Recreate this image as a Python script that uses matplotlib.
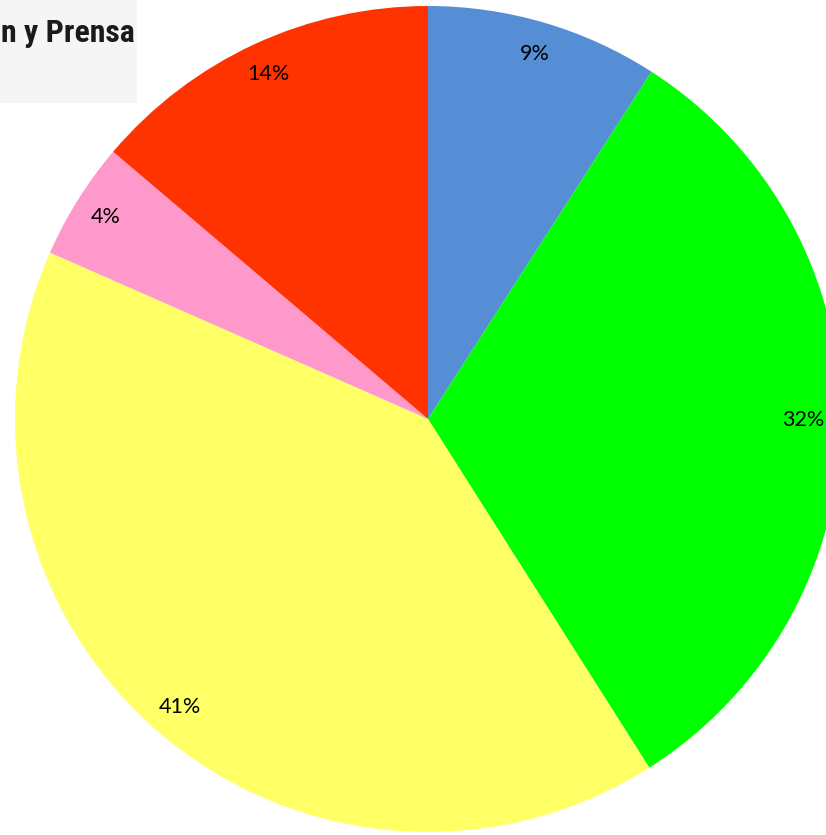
import matplotlib
matplotlib.use("Agg")
import matplotlib.pyplot as plt
from matplotlib.patches import Rectangle
from matplotlib import font_manager

# Data (clockwise from 12 o'clock)
values = [9.1, 31.9, 40.6, 4.6, 13.8]
pct_labels = ["9%", "32%", "41%", "4%", "14%"]
colors = ["#558ED5", "#00FF00", "#FFFF66", "#FF99CC", "#FF3300"]
logo_text = "n y Prensa"

W, H = 826, 835
fig = plt.figure(figsize=(W / 100, H / 100), dpi=100)
ax = fig.add_axes([0, 0, 1, 1])

cx, cy, r = 428, H - 419, 413
wedges, texts, autotexts = ax.pie(
    values, colors=colors, startangle=90, counterclock=False,
    center=(cx, cy), radius=r, autopct="%1.0f%%", pctdistance=0.92,
    wedgeprops=dict(linewidth=0),
    textprops=dict(fontsize=15.5, family=["Lato", "DejaVu Sans"]),
)
for t, lab in zip(autotexts, pct_labels):
    t.set_text(lab)
    t.set_color("black")

ax.set_xlim(0, W)
ax.set_ylim(0, H)
ax.set_aspect("equal", adjustable="box")
ax.axis("off")

# logo box at top-left
ax.add_patch(Rectangle((0, H - 103), 137, 103, facecolor="#F5F5F5", edgecolor="none", zorder=5))
names = {f.name for f in font_manager.fontManager.ttflist}
cands = ["Liberation Sans Narrow", "DejaVu Sans Condensed", "Roboto Condensed",
         "Open Sans Condensed", "Noto Sans Condensed", "Liberation Sans"]
fam = next((c for c in cands if c in names), "DejaVu Sans")
logo = ax.text(135, H - 33, logo_text, ha="right", va="center", fontsize=24, fontweight="bold",
               family=fam, color="#1a1a1a", zorder=6)
fig.canvas.draw()
rend = fig.canvas.get_renderer()
bb = logo.get_window_extent(renderer=rend)
logo.set_fontsize(24 * 134 / bb.width)

# keep labels inside the canvas
for t in autotexts:
    tb = t.get_window_extent(renderer=rend)
    if tb.x1 > W - 2:
        x, y = t.get_position()
        t.set_position((x - (tb.x1 - (W - 2)), y))

fig.savefig("out.png", dpi=100)
